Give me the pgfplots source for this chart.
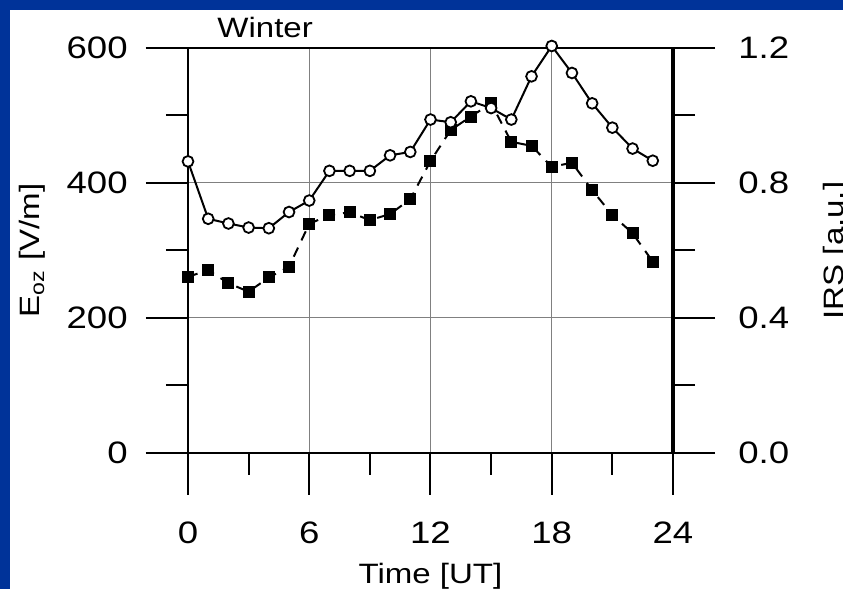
\documentclass[border=0pt]{standalone}
\usepackage{fontspec}
\setmainfont{Liberation Sans}
\usepackage{pgfplots}
\usepackage{pgfplotstable}
\pgfplotsset{compat=1.18}

\definecolor{slideblue}{RGB}{0,51,153}

% hourly means of the vertical field (left scale)
\pgfplotstableread{
h E
0 432
1 347
2 340
3 334
4 333
5 357
6 374
7 418
8 418
9 418
10 441
11 446
12 494
13 490
14 521
15 511
16 494
17 558
18 603
19 563
20 518
21 482
22 451
23 433
}\efield

% hourly means of IRS (right scale)
\pgfplotstableread{
h I
0 0.522
1 0.542
2 0.503
3 0.478
4 0.520
5 0.552
6 0.679
7 0.705
8 0.713
9 0.690
10 0.708
11 0.752
12 0.865
13 0.957
14 0.997
15 1.036
16 0.922
17 0.910
18 0.848
19 0.860
20 0.779
21 0.705
22 0.651
23 0.567
}\irs

\newcommand\lblfont{\fontsize{14}{16}\selectfont}
\newcommand\tickfont{\fontsize{15.5}{17}\selectfont}

\pgfplotsset{
  panel/.style={
    at={(94pt,68pt)}, anchor=south west,
    scale only axis, width=242.5pt, height=202.5pt,
    xmin=0, xmax=24,
    axis line style={draw=none},
    tick align=outside,
    major tick length=21pt, minor tick length=11pt,
    tick style={black, line width=1pt},
    tick label style={font=\tickfont, xscale=1.18},
    /pgf/number format/assume math mode=true,
    clip=false,
  },
}

\begin{document}
\begin{tikzpicture}
\fill[slideblue] (0,0) rectangle (421.5pt,294.5pt);
\fill[white] (5pt,0) rectangle (421.5pt,289.5pt);
\begin{scope}
\clip (5pt,0) rectangle (421.5pt,289.5pt);

% right scale: IRS, time axis and grid
\begin{axis}[panel,
  ymin=0, ymax=1.2,
  xtick={0,6,12,18,24}, minor xtick={3,9,15,21},
  xtick pos=left, xticklabel shift=10pt,
  xtick style={draw=none},
  ytick={0,0.4,0.8,1.2}, minor ytick={0.2,0.6,1.0},
  ytick pos=right, yticklabel pos=right, yticklabel shift=7.5pt,
  yticklabel style={/pgf/number format/fixed,
    /pgf/number format/fixed zerofill,
    /pgf/number format/precision=1},
  grid=major, major grid style={black!50, line width=0.5pt},
  xlabel={Time [UT]},
  ylabel={IRS [a.u.]},
  every axis x label/.style={at={(axis description cs:0.5,0)},
    yshift=-55pt, anchor=north, inner sep=0pt, font=\lblfont, xscale=1.18},
  every axis y label/.style={at={(axis description cs:1,0.5)},
    xshift=75pt, rotate=90, xscale=1.18, anchor=north, inner sep=0pt,
    font=\lblfont},
]
\addplot[black, line width=1pt, dash pattern=on 5pt off 4pt,
  mark=square*, mark size=2.5pt, mark options={solid}]
  table[x=h, y=I]{\irs};
\end{axis}

% left scale: E0z
\begin{axis}[panel,
  ymin=0, ymax=600,
  hide x axis,
  ytick={0,200,400,600}, minor ytick={100,300,500},
  ytick pos=left, yticklabel pos=left, yticklabel shift=5pt,
  ylabel={E\textsubscript{oz} [V/m]},
  every axis y label/.style={at={(axis description cs:0,0.5)},
    xshift=-84.5pt, rotate=90, xscale=1.18, anchor=north, inner sep=0pt,
    font=\lblfont},
  title={Winter},
  every axis title/.style={at={(axis description cs:0.159,1)},
    yshift=5pt, anchor=base, inner sep=0pt, font=\lblfont, xscale=1.18},
]
% frame and time ticks
\draw[line width=1.3pt] ([xshift=-21pt]rel axis cs:0,0) -- ([xshift=21pt]rel axis cs:1,0);
\draw[line width=1pt] ([xshift=-21pt]rel axis cs:0,1) -- ([xshift=21pt]rel axis cs:1,1);
\draw[line width=1.3pt] (rel axis cs:0,0) -- (rel axis cs:0,1);
\draw[line width=2pt] (rel axis cs:1,0) -- (rel axis cs:1,1);
\pgfplotsinvokeforeach{0,6,12,18,24}{
  \draw[line width=1pt] (axis cs:#1,0) -- ++(0,-21pt);
}
\pgfplotsinvokeforeach{3,9,15,21}{
  \draw[line width=1pt] (axis cs:#1,0) -- ++(0,-11pt);
}
\addplot[black, line width=1pt, mark=*, mark size=2.7pt,
  mark options={fill=white, line width=0.9pt}]
  table[x=h, y=E]{\efield};
\end{axis}
\end{scope}
\pgfresetboundingbox
\path[use as bounding box] (0,0) rectangle (421.5pt,294.5pt);
\end{tikzpicture}
\end{document}
